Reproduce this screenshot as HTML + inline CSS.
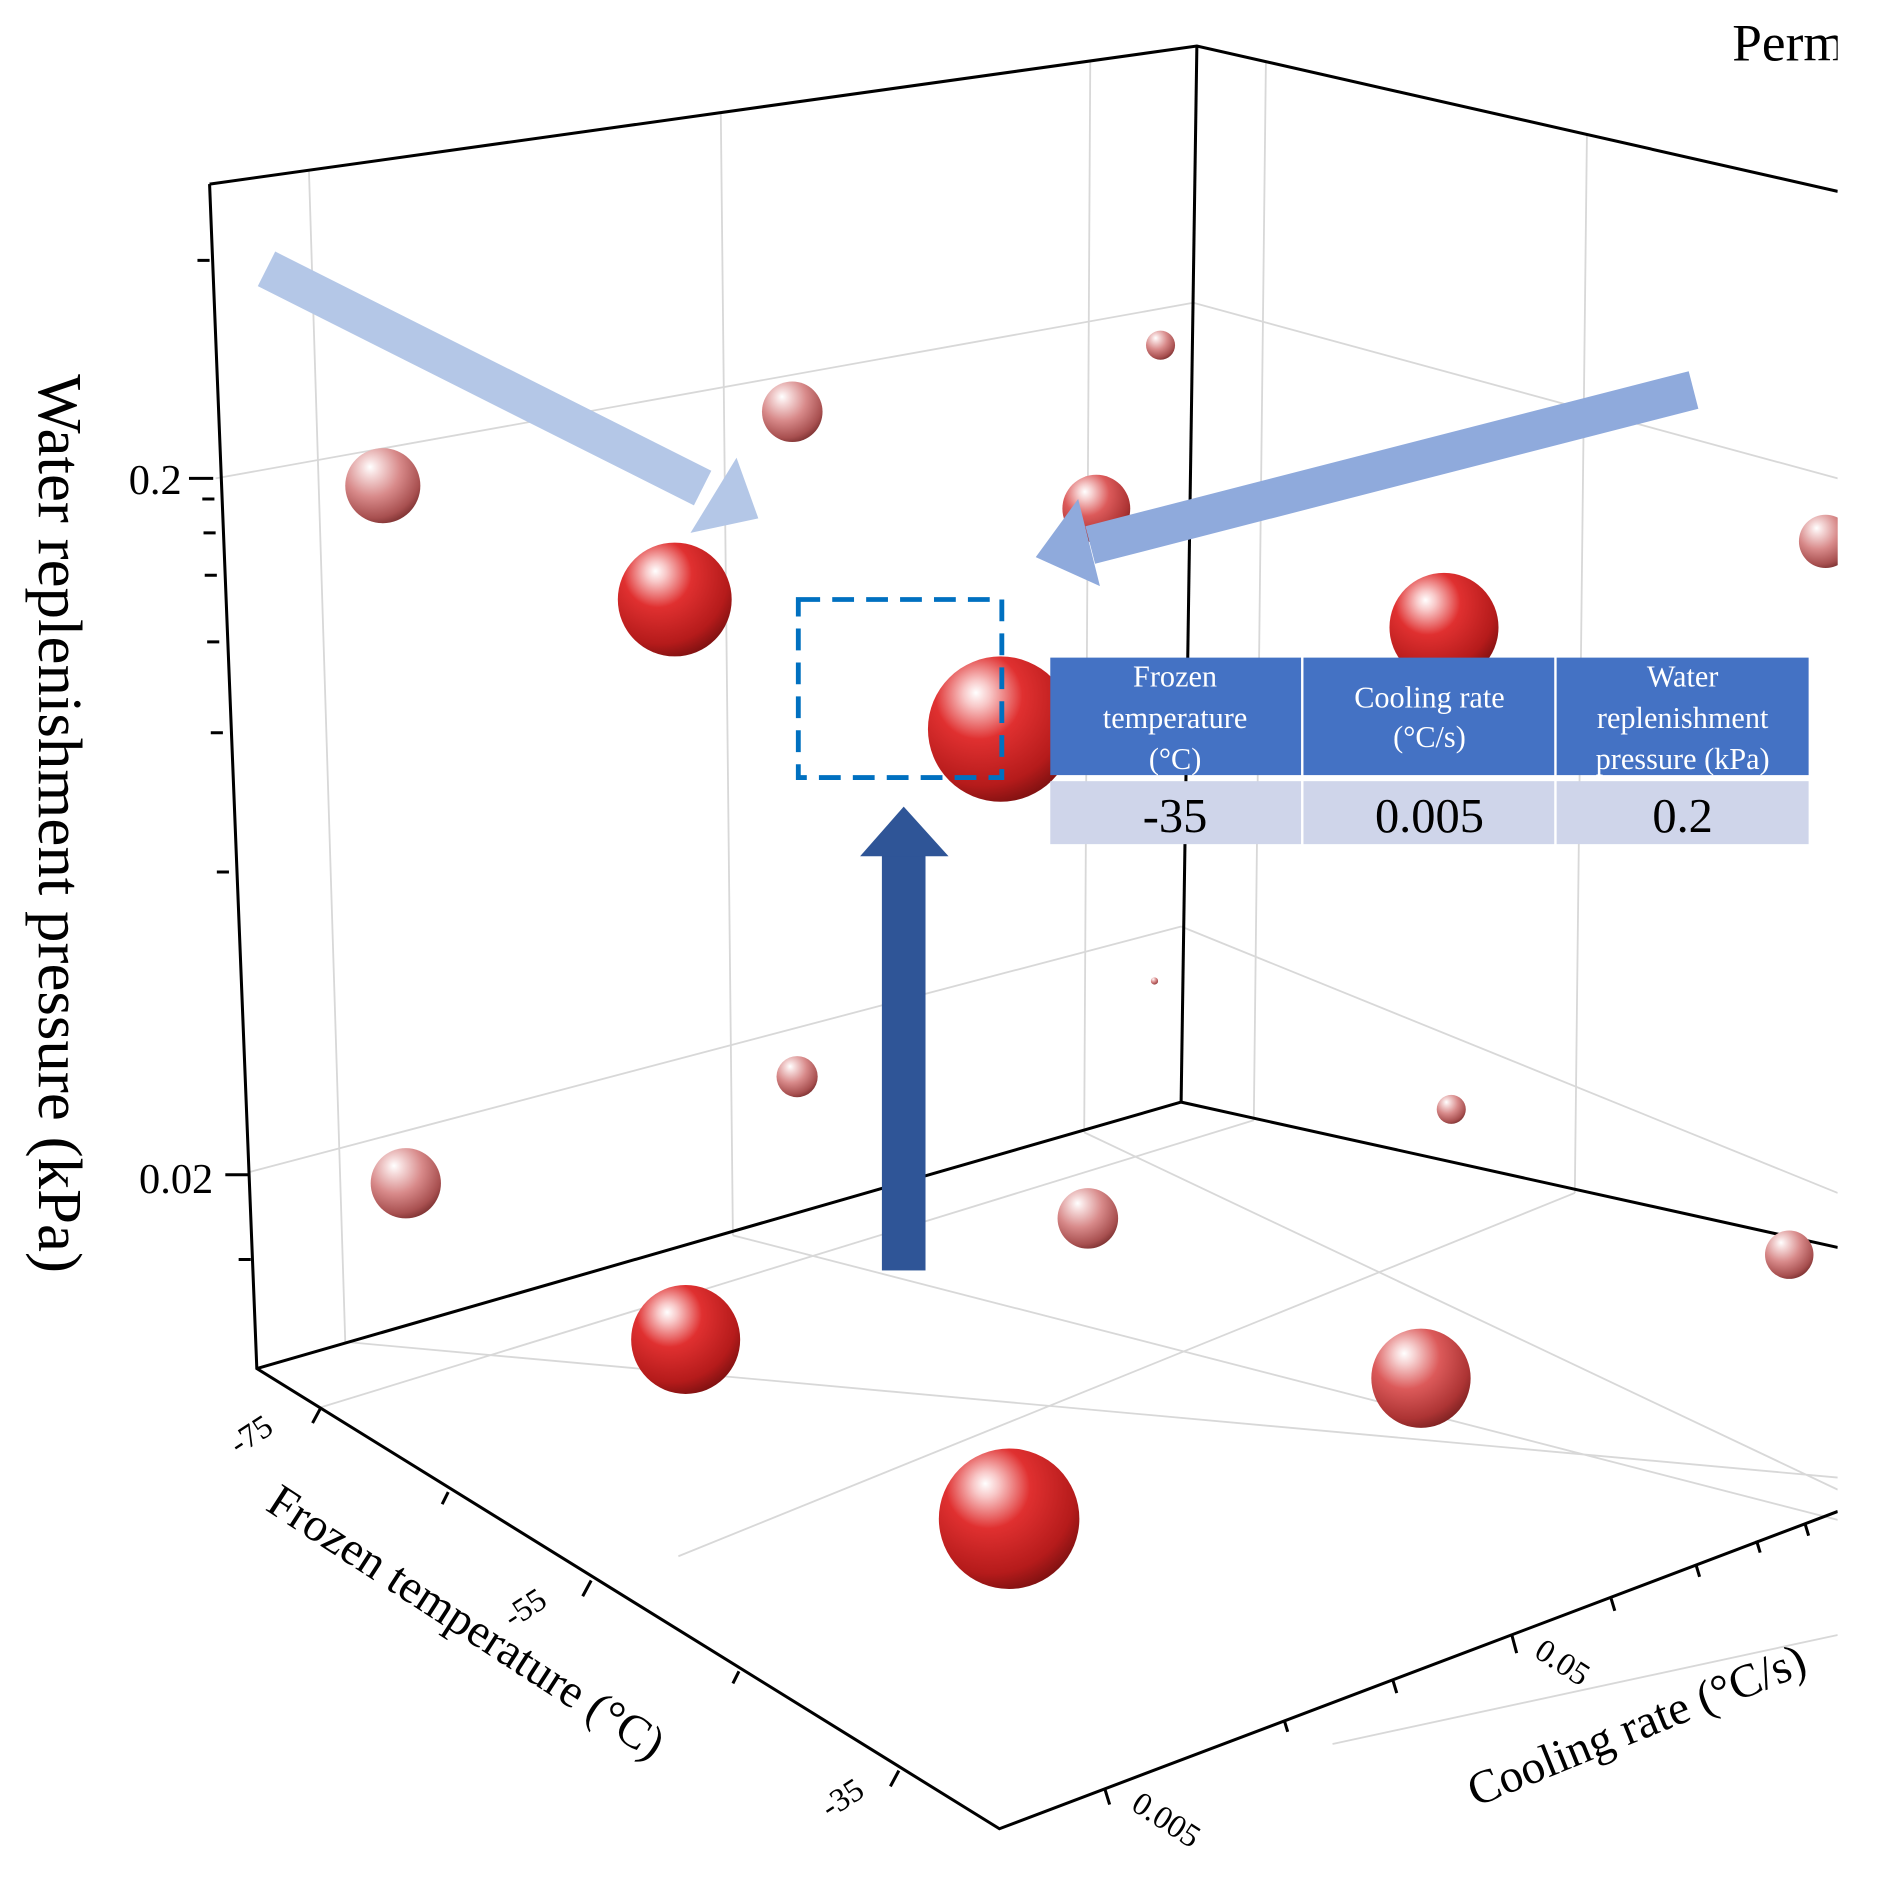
<!DOCTYPE html>
<html><head><meta charset="utf-8"><style>
html,body{margin:0;padding:0;background:#fff;width:1891px;height:1899px;overflow:hidden}
svg{display:block}
text{font-family:"Liberation Serif",serif}
</style></head><body>
<svg width="1891" height="1899" viewBox="0 0 1561 1568" preserveAspectRatio="none">
<defs>
<radialGradient id="g1" cx="0.38" cy="0.3" r="0.75" fx="0.33" fy="0.25">
<stop offset="0" stop-color="#fff"/><stop offset="0.12" stop-color="#f8c8c8"/><stop offset="0.4" stop-color="#e03030"/><stop offset="0.8" stop-color="#b51b1b"/><stop offset="1" stop-color="#7a1010"/></radialGradient>
<radialGradient id="g2" cx="0.38" cy="0.3" r="0.75" fx="0.33" fy="0.25">
<stop offset="0" stop-color="#fff"/><stop offset="0.15" stop-color="#f5dada"/><stop offset="0.5" stop-color="#d88a8a"/><stop offset="0.85" stop-color="#a85050"/><stop offset="1" stop-color="#7a3030"/></radialGradient>
<radialGradient id="g3" cx="0.38" cy="0.3" r="0.75" fx="0.33" fy="0.25">
<stop offset="0" stop-color="#fff"/><stop offset="0.14" stop-color="#f6d0d0"/><stop offset="0.45" stop-color="#dc5a5a"/><stop offset="0.82" stop-color="#ad3434"/><stop offset="1" stop-color="#7a2020"/></radialGradient>
<clipPath id="cp"><rect x="0" y="0" width="1517" height="1568"/></clipPath>
</defs>
<g clip-path="url(#cp)">
<g stroke="#d8d8d8" stroke-width="1.5" fill="none">
<path d="M255,140 L285,1108 M595,92 L605,1020 M900,50 L895,935"/>
<path d="M178,395 L985,250 M205,968 L975,765"/>
<path d="M1045,50 L1035,925 M1310,110 L1300,985"/>
<path d="M985,250 L1517,395 M975,765 L1517,985"/>
<path d="M285,1108 L1517,1220 M605,1020 L1517,1255 M895,935 L1517,1230"/>
<path d="M560,1285 L1300,985 M265,1162 L1035,925 M1100,1440 L1517,1350"/>
</g>
<g stroke="#000" stroke-width="2.5" fill="none">
<path d="M173,152 L988,38 L1517,158"/>
<path d="M988,38 L975,910"/>
<path d="M212,1130 L975,910 L1517,1030"/>
<path d="M173,152 L212,1130 L825,1510 L1517,1248"/>
</g>
<g stroke="#000" stroke-width="2.5">
<path d="M173,215 L163,215 M176,395 L156,395 M177,412 L167,412 M178,440 L168,440 M179,475 L169,475 M181,530 L171,530 M184,605 L174,605 M189,720 L179,720 M206,970 L186,970 M207,1040 L197,1040"/>
<path d="M265,1162 L258,1175 M370,1232 L365,1242 M488,1305 L481,1318 M610,1380 L605,1390 M742,1462 L735,1475"/>
<path d="M912,1477 L916,1490 M1248,1350 L1252,1365 M1060,1420 L1063,1430 M1150,1388 L1153,1398 M1330,1320 L1333,1330 M1400,1292 L1403,1302 M1450,1272 L1453,1282 M1490,1258 L1493,1268"/>
</g>
<g>
<circle cx="958" cy="285" r="12" fill="url(#g2)"/>
<circle cx="654" cy="340" r="25" fill="url(#g2)"/>
<circle cx="316" cy="401" r="31" fill="url(#g2)"/>
<circle cx="905" cy="420" r="28" fill="url(#g3)"/>
<circle cx="1507" cy="447" r="22" fill="url(#g2)"/>
<circle cx="557" cy="495" r="47" fill="url(#g1)"/>
<circle cx="1192" cy="518" r="45" fill="url(#g1)"/>
<circle cx="826" cy="602" r="60" fill="url(#g1)"/>
<circle cx="953" cy="810" r="3" fill="url(#g2)"/>
<circle cx="658" cy="889" r="17" fill="url(#g2)"/>
<circle cx="1198" cy="916" r="12" fill="url(#g2)"/>
<circle cx="335" cy="977" r="29" fill="url(#g2)"/>
<circle cx="898" cy="1006" r="25" fill="url(#g2)"/>
<circle cx="1477" cy="1036" r="20" fill="url(#g2)"/>
<circle cx="566" cy="1106" r="45" fill="url(#g1)"/>
<circle cx="1173" cy="1138" r="41" fill="url(#g3)"/>
<circle cx="833" cy="1254" r="58" fill="url(#g1)"/>
</g>
<path d="M220,222 L580,403" stroke="#b4c7e7" stroke-width="32"/>
<polygon points="626,428 570,440 608,378" fill="#b4c7e7"/>
<path d="M1398,322 L900,450" stroke="#8faadc" stroke-width="32"/>
<polygon points="855,460 908,484 890,412" fill="#8faadc"/>
<rect x="728" y="705" width="36" height="344" fill="#2f5597"/>
<polygon points="710,707 783,707 746,666" fill="#2f5597"/>
<rect x="659" y="495" width="168" height="147" fill="none" stroke="#0070c0" stroke-width="4" stroke-dasharray="18,10"/>
<rect x="867" y="543" width="207" height="97" fill="#4472c4"/>
<rect x="1076" y="543" width="207" height="97" fill="#4472c4"/>
<rect x="1285" y="543" width="208" height="97" fill="#4472c4"/>
<rect x="867" y="645" width="207" height="52" fill="#cfd5ea"/>
<rect x="1076" y="645" width="207" height="52" fill="#cfd5ea"/>
<rect x="1285" y="645" width="208" height="52" fill="#cfd5ea"/>
<g fill="#fff" font-size="25" text-anchor="middle">
<text x="970" y="567">Frozen</text><text x="970" y="601">temperature</text><text x="970" y="635">(°C)</text>
<text x="1180" y="584">Cooling rate</text><text x="1180" y="617">(°C/s)</text>
<text x="1389" y="567">Water</text><text x="1389" y="601">replenishment</text><text x="1389" y="635">pressure (kPa)</text>
</g>
<g fill="#000" font-size="40" text-anchor="middle">
<text x="970" y="687">-35</text><text x="1180" y="687">0.005</text><text x="1389" y="687">0.2</text>
</g>
<text x="1430" y="50" font-size="44">Permeability</text>
<text transform="translate(32,680) rotate(90)" font-size="52" text-anchor="middle">Water replenishment pressure (kPa)</text>
<text x="150" y="408" font-size="35" text-anchor="end">0.2</text>
<text x="176" y="985" font-size="35" text-anchor="end">0.02</text>
<text transform="translate(212,1192) rotate(-33)" font-size="27" text-anchor="middle">-75</text>
<text transform="translate(438,1335) rotate(-33)" font-size="27" text-anchor="middle">-55</text>
<text transform="translate(700,1492) rotate(-33)" font-size="27" text-anchor="middle">-35</text>
<text transform="translate(378,1350) rotate(33)" font-size="39" text-anchor="middle">Frozen temperature (°C)</text>
<text transform="translate(958,1510) rotate(33)" font-size="27" text-anchor="middle">0.005</text>
<text transform="translate(1285,1380) rotate(33)" font-size="27" text-anchor="middle">0.05</text>
<text transform="translate(1218,1492) rotate(-22)" font-size="39">Cooling rate (°C/s)</text>
</g>
</svg>
</body></html>
